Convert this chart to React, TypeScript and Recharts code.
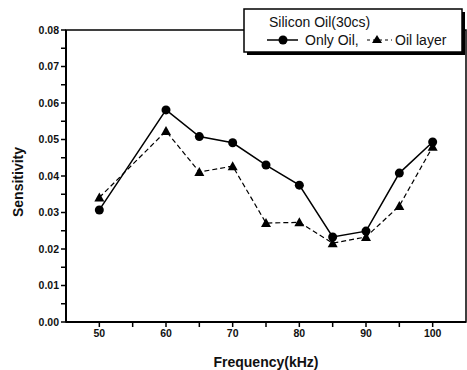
import { LineChart, Line, XAxis, YAxis, ReferenceArea } from "recharts";

// Frequency sweep (kHz) and measured sensitivity for the two setups
const frequencies = [50, 60, 65, 70, 75, 80, 85, 90, 95, 100];
const onlyOil = [0.0307, 0.0581, 0.0508, 0.0491, 0.043, 0.0375, 0.0233, 0.0249, 0.0408, 0.0493];
const oilLayer = [0.0341, 0.0523, 0.0411, 0.0427, 0.0271, 0.0273, 0.0216, 0.0233, 0.0318, 0.048];

const xTicks = [50, 55, 60, 65, 70, 75, 80, 85, 90, 95, 100];
const yTicks = [0, 0.005, 0.01, 0.015, 0.02, 0.025, 0.03, 0.035, 0.04, 0.045, 0.05, 0.055, 0.06, 0.065, 0.07, 0.075, 0.08];

const data = frequencies.map((f, i) => ({ freq: f, onlyOil: onlyOil[i], oilLayer: oilLayer[i] }));

const FONT = "Arial, 'Liberation Sans', Helvetica, sans-serif";
const tickFont = { fontSize: 10.5, fontWeight: "bold", fontFamily: FONT, fill: "#111" };

// only every other tick gets a label (minor ticks at the half steps)
const xLabel = (v: number) => (v % 10 === 0 ? String(v) : "");
const yLabel = (v: number) => (Math.round(v * 1000) % 10 === 0 ? v.toFixed(2) : "");

const Triangle = (props: any) => {
  const { cx, cy, index } = props;
  if (cx == null || cy == null) return <g key={index} />;
  return <polygon key={index} points={`${cx},${cy - 5} ${cx - 5},${cy + 4} ${cx + 5},${cy + 4}`} fill="#000" />;
};

const LegendBox = () => (
  <svg width={225} height={60} style={{ position: "absolute", left: 240, top: 5 }}>
    <rect x={4} y={4} width={218} height={43} fill="#fff" stroke="#000" strokeWidth={1.5} />
    <line x1={7} x2={225} y1={48.5} y2={48.5} stroke="#000" strokeWidth={3} />
    <line x1={223.5} x2={223.5} y1={7} y2={50} stroke="#000" strokeWidth={3} />
    <text x={29} y={22} fontSize={14} fontFamily={FONT} fill="#111">Silicon Oil(30cs)</text>
    <line x1={27} x2={58} y1={35} y2={35} stroke="#000" strokeWidth={1.5} />
    <circle cx={43} cy={35} r={4.5} fill="#000" />
    <text x={65} y={40} fontSize={14} fontFamily={FONT} fill="#111">Only Oil,</text>
    <line x1={127} x2={152} y1={35} y2={35} stroke="#000" strokeWidth={1} strokeDasharray="3 3" />
    <polygon points="137,30 132,38 142,38" fill="#000" />
    <text x={155} y={40} fontSize={14} fontFamily={FONT} fill="#111">Oil layer</text>
  </svg>
);

export default function App() {
  return (
    <div style={{ position: "absolute", left: 0, top: 0, width: 467, height: 370, background: "#fff" }}>
      <LineChart width={467} height={370} data={data} margin={{ top: 30, right: 1, bottom: 0, left: 0 }}>
        <ReferenceArea x1={45} x2={105} y1={0} y2={0.08} fill="none" stroke="#000" strokeWidth={1.5} ifOverflow="visible" />
        <XAxis
          dataKey="freq"
          type="number"
          domain={[45, 105]}
          ticks={xTicks}
          interval={0}
          tickFormatter={xLabel}
          tick={tickFont}
          stroke="#000"
          tickLine={{ stroke: "#000", strokeWidth: 1.5 }}
          tickSize={5}
          tickMargin={3}
          height={48}
          axisLine={{ stroke: "#000", strokeWidth: 2 }}
          label={{ value: "Frequency(kHz)", position: "insideBottom", offset: 3, fontSize: 14, fontWeight: "bold", fontFamily: FONT, fill: "#111" }}
        />
        <YAxis
          type="number"
          domain={[0, 0.08]}
          ticks={yTicks}
          interval={0}
          tickFormatter={yLabel}
          tick={tickFont}
          stroke="#000"
          tickLine={{ stroke: "#000", strokeWidth: 1.5 }}
          tickSize={5}
          tickMargin={2}
          width={66}
          axisLine={{ stroke: "#000", strokeWidth: 2 }}
          label={{ value: "Sensitivity", angle: -90, position: "insideLeft", offset: 18, dy: 6, fontSize: 14, fontWeight: "bold", fontFamily: FONT, fill: "#111", style: { textAnchor: "middle" } }}
        />
        <Line
          dataKey="onlyOil"
          stroke="#000"
          strokeWidth={1.5}
          dot={{ r: 4.5, fill: "#000", stroke: "#000", strokeWidth: 0 }}
          isAnimationActive={false}
        />
        <Line
          dataKey="oilLayer"
          stroke="#000"
          strokeWidth={1.2}
          strokeDasharray="5 3"
          dot={<Triangle />}
          isAnimationActive={false}
        />
      </LineChart>
      <LegendBox />
    </div>
  );
}
